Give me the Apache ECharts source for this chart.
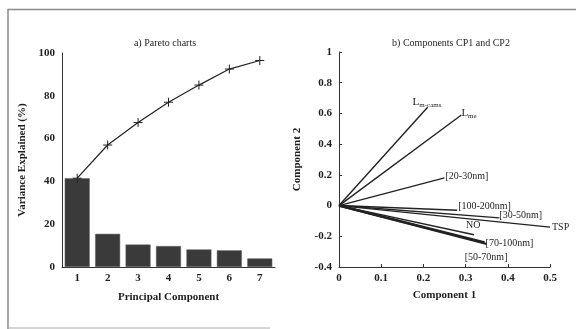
<!DOCTYPE html>
<html><head><meta charset="utf-8">
<script src="https://cdn.jsdelivr.net/npm/echarts@6/dist/echarts.min.js"></script>
<style>html,body{margin:0;padding:0;background:#fff}#c{width:576px;height:329px}</style>
</head><body><div id="c"></div>
<script>
// Pareto chart data
const components = ['1','2','3','4','5','6','7'];
const varianceExplained = [41.5, 15.5, 10.5, 9.8, 8.2, 7.8, 4.0];
const cumulativeVariance = [41.5, 57.0, 67.5, 77.0, 85.0, 92.5, 96.5];
// Loadings on CP1 / CP2
const vectorNames = ['Lm', 'Lme', '[20-30nm]', '[100-200nm]', '[30-50nm]', 'TSP', 'NO', '[70-100nm]', '[50-70nm]'];
const comp1 = [0.21, 0.29, 0.25, 0.28, 0.38, 0.50, 0.32, 0.345, 0.35];
const comp2 = [0.64, 0.59, 0.18, -0.03, -0.08, -0.14, -0.19, -0.24, -0.25];
const leftYTicks = [0, 20, 40, 60, 80, 100];

const font = 'Liberation Serif';
const txt = '#1e1e1e';
const labelStyles = {
  'Lm': {position: [-15, -12], formatter: '{b|L}{s|m-cams}'},
  'Lme': {position: [0, -8], formatter: '{b|L}{s|me}'},
  '[20-30nm]': {position: [1, -7]},
  '[100-200nm]': {position: [1, -9]},
  '[30-50nm]': {position: [0, -7]},
  'TSP': {position: [2, -5]},
  'NO': {position: [-8, -14]},
  '[70-100nm]': {position: [1, -4]},
  '[50-70nm]': {position: [-22, 8]}
};

const vecSeries = vectorNames.map((n, i) => {
  const ls = labelStyles[n] || {};
  return {
    type: 'line', xAxisIndex: 1, yAxisIndex: 1, name: n,
    symbol: 'circle', symbolSize: 0, showSymbol: true,
    lineStyle: {color: '#222', width: (n === '[50-70nm]' || n === '[70-100nm]') ? 2.2 : 1.4},
    itemStyle: {color: '#222'},
    silent: true, animation: false,
    data: [[0, 0], {value: [comp1[i], comp2[i]], label: {
      show: true, position: ls.position, align: 'left', verticalAlign: 'top',
      formatter: ls.formatter || n, fontFamily: font, fontSize: 10, color: txt,
      rich: {b: {fontFamily: font, fontSize: 11, color: txt}, s: {fontFamily: font, fontSize: 7, color: txt, padding: [6, 0, 0, 0]}}
    }}]
  };
});

const axisText = {fontFamily: font, fontSize: 11, color: txt, fontWeight: 'bold'};
const chart = echarts.init(document.getElementById('c'), null, {renderer: 'canvas'});
chart.setOption({
  backgroundColor: '#fff',
  animation: false,
  title: [
    {text: 'a) Pareto charts', left: 160, top: 33, textAlign: 'center', textStyle: {fontFamily: font, fontSize: 10, fontWeight: 'normal', color: txt}},
    {text: 'b) Components CP1 and CP2', left: 446, top: 33, textAlign: 'center', textStyle: {fontFamily: font, fontSize: 10, fontWeight: 'normal', color: txt}}
  ],
  grid: [
    {left: 62, top: 53, width: 213, height: 214},
    {left: 339, top: 52, width: 211, height: 215}
  ],
  xAxis: [
    {gridIndex: 0, type: 'category', data: components, boundaryGap: true,
     axisLine: {lineStyle: {color: '#333'}}, axisTick: {show: false},
     axisLabel: Object.assign({margin: 6}, axisText),
     name: 'Principal Component', nameLocation: 'middle', nameGap: 25,
     nameTextStyle: {fontFamily: font, fontSize: 11, color: txt, fontWeight: 'bold'}},
    {gridIndex: 1, type: 'value', min: 0, max: 0.5, interval: 0.1,
     axisLine: {onZero: false, lineStyle: {color: '#333'}}, axisTick: {show: true, inside: true, length: 3, lineStyle: {color: '#333'}},
     splitLine: {show: false},
     axisLabel: Object.assign({margin: 6, formatter: v => String(+v.toFixed(1))}, axisText),
     name: 'Component 1', nameLocation: 'middle', nameGap: 23,
     nameTextStyle: {fontFamily: font, fontSize: 11, color: txt, fontWeight: 'bold'}}
  ],
  yAxis: [
    {gridIndex: 0, type: 'value', min: leftYTicks[0], max: leftYTicks[leftYTicks.length - 1], interval: 20,
     axisLine: {show: true, lineStyle: {color: '#333'}}, axisTick: {show: false}, splitLine: {show: false},
     axisLabel: Object.assign({margin: 7}, axisText),
     name: 'Variance Explained (%)', nameLocation: 'middle', nameGap: 34,
     nameTextStyle: {fontFamily: font, fontSize: 11, color: txt, fontWeight: 'bold'}},
    {gridIndex: 1, type: 'value', min: -0.4, max: 1, interval: 0.2,
     axisLine: {show: true, onZero: false, lineStyle: {color: '#333'}}, axisTick: {show: true, inside: true, length: 3, lineStyle: {color: '#333'}},
     splitLine: {show: false},
     axisLabel: Object.assign({margin: 7, formatter: v => String(+v.toFixed(1))}, axisText),
     name: 'Component 2', nameLocation: 'middle', nameGap: 36,
     nameTextStyle: {fontFamily: font, fontSize: 11, color: txt, fontWeight: 'bold'}}
  ],
  series: [
    {type: 'bar', xAxisIndex: 0, yAxisIndex: 0, data: varianceExplained, barWidth: 25,
     itemStyle: {color: '#3a3a3a', borderColor: '#666', borderWidth: 0.5}, silent: true},
    {type: 'line', xAxisIndex: 0, yAxisIndex: 0, data: cumulativeVariance,
     symbol: 'path://M5,0 L5,10 M0,5 L10,5', symbolSize: 9, showSymbol: true,
     itemStyle: {color: 'none', borderColor: '#222', borderWidth: 1},
     lineStyle: {color: '#222', width: 1.2}, silent: true}
  ].concat(vecSeries),
  graphic: [
    {type: 'polyline', shape: {points: [[8, 329], [8, 9.5], [576, 9.5]]}, style: {stroke: '#8a8a8a', lineWidth: 1.5, fill: null}},
    {type: 'line', shape: {x1: 8, y1: 328, x2: 270, y2: 328}, style: {stroke: '#aaa', lineWidth: 1}}
  ]
});
</script></body></html>
